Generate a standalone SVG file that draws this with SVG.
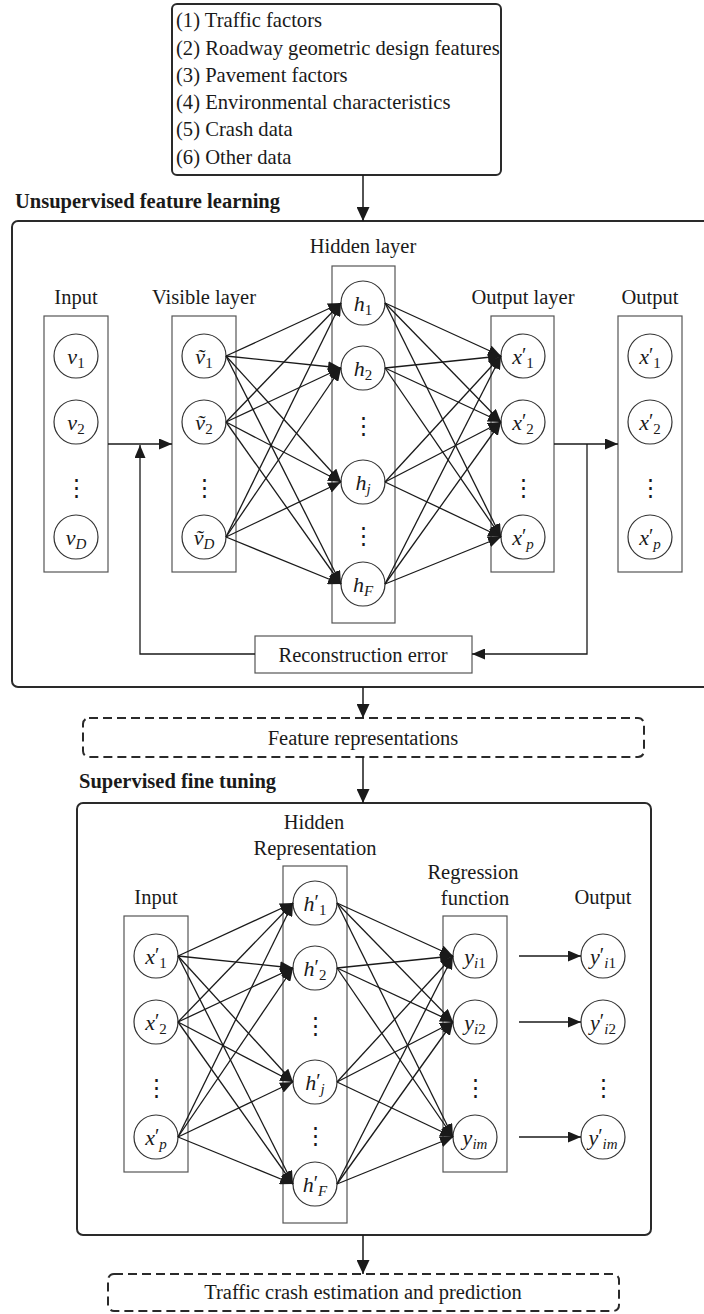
<svg xmlns="http://www.w3.org/2000/svg" width="704" height="1314" viewBox="0 0 704 1314">
<defs>
<marker id="ah" markerWidth="13" markerHeight="11" refX="13" refY="5.5" orient="auto" markerUnits="userSpaceOnUse"><path d="M0,0 L13,5.5 L0,11 Z" fill="#1a1a1a"/></marker>
<marker id="ahb" markerWidth="14" markerHeight="13" refX="14" refY="6.5" orient="auto" markerUnits="userSpaceOnUse"><path d="M0,0 L14,6.5 L0,13 Z" fill="#1a1a1a"/></marker>
</defs>
<style>
.big{fill:#fff;stroke:#2a2a2a;stroke-width:2}
.dash{fill:#fff;stroke:#2a2a2a;stroke-width:2;stroke-dasharray:9 5}
.lay{fill:#fff;stroke:#555;stroke-width:1.2}
.nd{fill:#fff;stroke:#333;stroke-width:1.2}
.tl{font-family:"Liberation Serif","Times New Roman",serif;font-size:20.6px;fill:#1a1a1a}
.tc{font-family:"Liberation Serif","Times New Roman",serif;font-size:20.5px;fill:#1a1a1a;text-anchor:middle}
.tb{font-family:"Liberation Serif","Times New Roman",serif;font-size:20.5px;font-weight:bold;fill:#1a1a1a}
.nl{font-family:"Liberation Serif","Times New Roman",serif;font-size:22px;font-style:italic;fill:#1a1a1a;text-anchor:middle}
.sb{font-size:15px;font-style:normal}
.si{font-size:15px;font-style:italic}
.pr{font-style:normal;font-size:20px}
.dots{font-family:"DejaVu Serif",serif;font-size:23px;fill:#1a1a1a;text-anchor:middle}
.cn{stroke:#1a1a1a;stroke-width:1.3;fill:none}
.ar{stroke:#1a1a1a;stroke-width:1.5;fill:none}
</style>

<g id="inputs-list">
<rect class="big" x="172" y="4" width="329" height="171" rx="5"/>
<text class="tl" x="176" y="27">(1) Traffic factors</text>
<text class="tl" x="176" y="54.5">(2) Roadway geometric design features</text>
<text class="tl" x="176" y="81.5">(3) Pavement factors</text>
<text class="tl" x="176" y="109">(4) Environmental characteristics</text>
<text class="tl" x="176" y="136">(5) Crash data</text>
<text class="tl" x="176" y="163.5">(6) Other data</text>
</g>

<g id="unsupervised">
<text class="tb" x="15" y="208">Unsupervised feature learning</text>
<rect class="big" x="12" y="221" width="710" height="466" rx="6"/>
</g>

<g id="u-input">
<text class="tc" x="76" y="304">Input</text>
<rect class="lay" x="44" y="316" width="64" height="256"/>
<circle class="nd" cx="76" cy="356" r="22"/><text class="nl" x="76" y="364">v<tspan class="sb" dy="4">1</tspan></text>
<circle class="nd" cx="76" cy="422" r="22"/><text class="nl" x="76" y="430">v<tspan class="sb" dy="4">2</tspan></text>
<text class="dots" x="76" y="495">⋮</text>
<circle class="nd" cx="76" cy="537" r="22"/><text class="nl" x="76" y="545">v<tspan class="si" dy="4">D</tspan></text>
</g>

<g id="u-visible">
<text class="tc" x="204" y="304">Visible layer</text>
<rect class="lay" x="172" y="316" width="64" height="256"/>
<circle class="nd" cx="204" cy="356" r="22"/><text class="nl" x="204" y="364">v&#x303;<tspan class="sb" dy="4">1</tspan></text>
<circle class="nd" cx="204" cy="422" r="22"/><text class="nl" x="204" y="430">v&#x303;<tspan class="sb" dy="4">2</tspan></text>
<text class="dots" x="204" y="495">⋮</text>
<circle class="nd" cx="204" cy="537" r="22"/><text class="nl" x="204" y="545">v&#x303;<tspan class="si" dy="4">D</tspan></text>
</g>

<g id="u-hidden">
<text class="tc" x="363" y="253">Hidden layer</text>
<rect class="lay" x="332" y="266" width="63" height="357"/>
<circle class="nd" cx="363" cy="303" r="22"/><text class="nl" x="363" y="311">h<tspan class="sb" dy="4">1</tspan></text>
<circle class="nd" cx="363" cy="368" r="22"/><text class="nl" x="363" y="376">h<tspan class="sb" dy="4">2</tspan></text>
<text class="dots" x="363" y="433">⋮</text>
<circle class="nd" cx="363" cy="482" r="22"/><text class="nl" x="363" y="490">h<tspan class="si" dy="4">j</tspan></text>
<text class="dots" x="363" y="543">⋮</text>
<circle class="nd" cx="363" cy="584" r="22"/><text class="nl" x="363" y="592">h<tspan class="si" dy="4">F</tspan></text>
</g>

<g id="u-outlayer">
<text class="tc" x="523" y="304">Output layer</text>
<rect class="lay" x="491" y="316" width="63" height="256"/>
<circle class="nd" cx="523" cy="356" r="22"/><text class="nl" x="523" y="364">x<tspan class="pr" dy="-2">′</tspan><tspan class="sb" dy="6">1</tspan></text>
<circle class="nd" cx="523" cy="422" r="22"/><text class="nl" x="523" y="430">x<tspan class="pr" dy="-2">′</tspan><tspan class="sb" dy="6">2</tspan></text>
<text class="dots" x="523" y="495">⋮</text>
<circle class="nd" cx="523" cy="537" r="22"/><text class="nl" x="523" y="545">x<tspan class="pr" dy="-2">′</tspan><tspan class="si" dy="6">p</tspan></text>
</g>

<g id="u-output">
<text class="tc" x="650" y="304">Output</text>
<rect class="lay" x="618" y="316" width="64" height="256"/>
<circle class="nd" cx="650" cy="356" r="22"/><text class="nl" x="650" y="364">x<tspan class="pr" dy="-2">′</tspan><tspan class="sb" dy="6">1</tspan></text>
<circle class="nd" cx="650" cy="422" r="22"/><text class="nl" x="650" y="430">x<tspan class="pr" dy="-2">′</tspan><tspan class="sb" dy="6">2</tspan></text>
<text class="dots" x="650" y="495">⋮</text>
<circle class="nd" cx="650" cy="537" r="22"/><text class="nl" x="650" y="545">x<tspan class="pr" dy="-2">′</tspan><tspan class="si" dy="6">p</tspan></text>
</g>

<g id="recon">
<rect class="lay" x="255" y="636" width="217" height="37"/>
<text class="tc" x="363" y="662">Reconstruction error</text>
</g>

<g id="features">
<rect class="dash" x="83" y="718" width="561" height="39" rx="6"/>
<text class="tc" x="363" y="745">Feature representations</text>
</g>

<g id="supervised">
<text class="tb" x="79" y="788">Supervised fine tuning</text>
<rect class="big" x="77" y="803" width="574" height="432" rx="6"/>
</g>

<g id="s-input">
<text class="tc" x="156" y="904">Input</text>
<rect class="lay" x="124" y="916" width="64" height="256"/>
<circle class="nd" cx="156" cy="956" r="22"/><text class="nl" x="156" y="964">x<tspan class="pr" dy="-2">′</tspan><tspan class="sb" dy="6">1</tspan></text>
<circle class="nd" cx="156" cy="1022" r="22"/><text class="nl" x="156" y="1030">x<tspan class="pr" dy="-2">′</tspan><tspan class="sb" dy="6">2</tspan></text>
<text class="dots" x="156" y="1095">⋮</text>
<circle class="nd" cx="156" cy="1137" r="22"/><text class="nl" x="156" y="1145">x<tspan class="pr" dy="-2">′</tspan><tspan class="si" dy="6">p</tspan></text>
</g>

<g id="s-hidden">
<text class="tc" x="314" y="829">Hidden</text>
<text class="tc" x="315" y="855">Representation</text>
<rect class="lay" x="283" y="866" width="64" height="357"/>
<circle class="nd" cx="315" cy="903" r="22"/><text class="nl" x="315" y="911">h<tspan class="pr" dy="-2">′</tspan><tspan class="sb" dy="6">1</tspan></text>
<circle class="nd" cx="315" cy="968" r="22"/><text class="nl" x="315" y="976">h<tspan class="pr" dy="-2">′</tspan><tspan class="sb" dy="6">2</tspan></text>
<text class="dots" x="315" y="1033">⋮</text>
<circle class="nd" cx="315" cy="1082" r="22"/><text class="nl" x="315" y="1090">h<tspan class="pr" dy="-2">′</tspan><tspan class="si" dy="6">j</tspan></text>
<text class="dots" x="315" y="1143">⋮</text>
<circle class="nd" cx="315" cy="1184" r="22"/><text class="nl" x="315" y="1192">h<tspan class="pr" dy="-2">′</tspan><tspan class="si" dy="6">F</tspan></text>
</g>

<g id="s-regression">
<text class="tc" x="473" y="879">Regression</text>
<text class="tc" x="475" y="905">function</text>
<rect class="lay" x="443" y="916" width="64" height="256"/>
<circle class="nd" cx="475" cy="956" r="22"/><text class="nl" x="475" y="964">y<tspan class="si" dy="4">i</tspan><tspan class="sb">1</tspan></text>
<circle class="nd" cx="475" cy="1022" r="22"/><text class="nl" x="475" y="1030">y<tspan class="si" dy="4">i</tspan><tspan class="sb">2</tspan></text>
<text class="dots" x="475" y="1095">⋮</text>
<circle class="nd" cx="475" cy="1137" r="22"/><text class="nl" x="475" y="1145">y<tspan class="si" dy="4">im</tspan></text>
</g>

<g id="s-output">
<text class="tc" x="603" y="904">Output</text>
<circle class="nd" cx="603" cy="956" r="22"/><text class="nl" x="603" y="964">y<tspan class="pr" dy="-2">′</tspan><tspan class="si" dy="6">i</tspan><tspan class="sb">1</tspan></text>
<circle class="nd" cx="603" cy="1022" r="22"/><text class="nl" x="603" y="1030">y<tspan class="pr" dy="-2">′</tspan><tspan class="si" dy="6">i</tspan><tspan class="sb">2</tspan></text>
<text class="dots" x="603" y="1095">⋮</text>
<circle class="nd" cx="603" cy="1137" r="22"/><text class="nl" x="603" y="1145">y<tspan class="pr" dy="-2">′</tspan><tspan class="si" dy="6">im</tspan></text>
</g>

<g id="result">
<rect class="dash" x="108" y="1274" width="511" height="37" rx="6"/>
<text class="tc" x="363" y="1299">Traffic crash estimation and prediction</text>
</g>

<g id="connectors">
<g class="cn" marker-end="url(#ah)">
<line x1="226" y1="356" x2="341" y2="303"/><line x1="226" y1="356" x2="341" y2="368"/><line x1="226" y1="356" x2="341" y2="482"/><line x1="226" y1="356" x2="341" y2="584"/>
<line x1="226" y1="422" x2="341" y2="303"/><line x1="226" y1="422" x2="341" y2="368"/><line x1="226" y1="422" x2="341" y2="482"/><line x1="226" y1="422" x2="341" y2="584"/>
<line x1="226" y1="537" x2="341" y2="303"/><line x1="226" y1="537" x2="341" y2="368"/><line x1="226" y1="537" x2="341" y2="482"/><line x1="226" y1="537" x2="341" y2="584"/>
<line x1="385" y1="303" x2="501" y2="356"/><line x1="385" y1="303" x2="501" y2="422"/><line x1="385" y1="303" x2="501" y2="537"/>
<line x1="385" y1="368" x2="501" y2="356"/><line x1="385" y1="368" x2="501" y2="422"/><line x1="385" y1="368" x2="501" y2="537"/>
<line x1="385" y1="482" x2="501" y2="356"/><line x1="385" y1="482" x2="501" y2="422"/><line x1="385" y1="482" x2="501" y2="537"/>
<line x1="385" y1="584" x2="501" y2="356"/><line x1="385" y1="584" x2="501" y2="422"/><line x1="385" y1="584" x2="501" y2="537"/>
<line x1="178" y1="956" x2="293" y2="903"/><line x1="178" y1="956" x2="293" y2="968"/><line x1="178" y1="956" x2="293" y2="1082"/><line x1="178" y1="956" x2="293" y2="1184"/>
<line x1="178" y1="1022" x2="293" y2="903"/><line x1="178" y1="1022" x2="293" y2="968"/><line x1="178" y1="1022" x2="293" y2="1082"/><line x1="178" y1="1022" x2="293" y2="1184"/>
<line x1="178" y1="1137" x2="293" y2="903"/><line x1="178" y1="1137" x2="293" y2="968"/><line x1="178" y1="1137" x2="293" y2="1082"/><line x1="178" y1="1137" x2="293" y2="1184"/>
<line x1="337" y1="903" x2="453" y2="956"/><line x1="337" y1="903" x2="453" y2="1022"/><line x1="337" y1="903" x2="453" y2="1137"/>
<line x1="337" y1="968" x2="453" y2="956"/><line x1="337" y1="968" x2="453" y2="1022"/><line x1="337" y1="968" x2="453" y2="1137"/>
<line x1="337" y1="1082" x2="453" y2="956"/><line x1="337" y1="1082" x2="453" y2="1022"/><line x1="337" y1="1082" x2="453" y2="1137"/>
<line x1="337" y1="1184" x2="453" y2="956"/><line x1="337" y1="1184" x2="453" y2="1022"/><line x1="337" y1="1184" x2="453" y2="1137"/>
<line x1="519" y1="956" x2="581" y2="956"/><line x1="519" y1="1022" x2="581" y2="1022"/><line x1="519" y1="1137" x2="581" y2="1137"/>
<line x1="108" y1="444" x2="172" y2="444"/>
<polyline points="255,654 140,654 140,445"/>
<line x1="554" y1="444" x2="618" y2="444"/>
<polyline points="587,444 587,654 472,654"/>
</g>
<g class="ar" marker-end="url(#ahb)">
<line x1="363" y1="175" x2="363" y2="221"/>
<line x1="363" y1="687" x2="363" y2="718"/>
<line x1="363" y1="757" x2="363" y2="803"/>
<line x1="363" y1="1235" x2="363" y2="1274"/>
</g>
</g>
</svg>
